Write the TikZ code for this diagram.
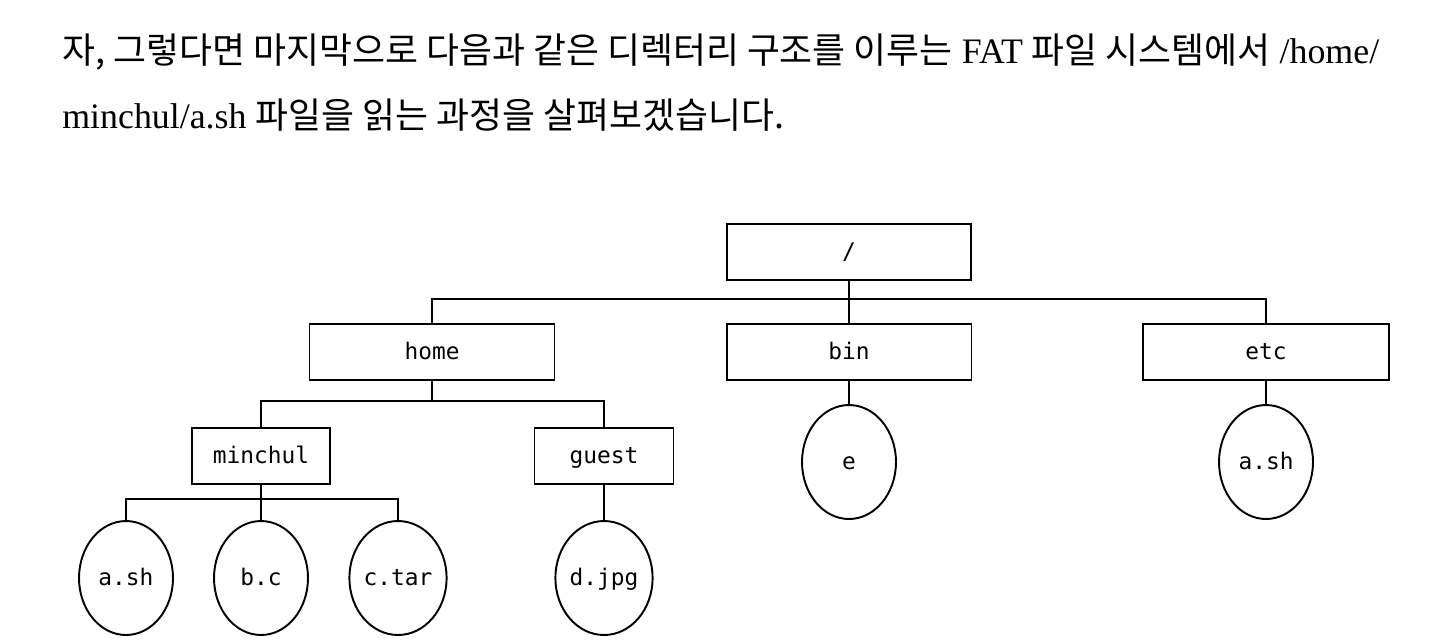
\documentclass[tikz,border=0pt]{standalone}
\usepackage{fontspec}
\setmainfont{Liberation Serif}
\newfontfamily\krfont{Noto Sans CJK KR}
\newfontfamily\sketchfont{DejaVu Sans Mono}
\usetikzlibrary{positioning, shapes.geometric}

\tikzset{
	bodytext/.style={font=\fontsize{20.4}{24}\selectfont, anchor=base west, inner sep=0pt}
}

\begin{document}
\begin{tikzpicture}[x=0.02cm, y=-0.02cm]
	\tikzset{
		dirnode/.style={
				shape=rectangle,
				draw=black,
				line width=1.1pt,
				fill=white,
				minimum height=1.13cm,
				inner sep=0pt,
				text height=1.9ex,
				text depth=0.1ex,
				font=\sketchfont\fontsize{13}{15}\selectfont
			},
		filenode/.style={
				shape=ellipse,
				draw=black,
				line width=1.1pt,
				fill=white,
				minimum width=1.88cm,
				minimum height=2.28cm,
				inner sep=0pt,
				text height=1.9ex,
				text depth=0.1ex,
				font=\sketchfont\fontsize{13}{15}\selectfont
			},
		link/.style={line width=1.1pt}
	}
	\useasboundingbox (0,0) rectangle (1436,640);

	\node[bodytext] (line1) at (62,63) {{\krfont 자, 그렇다면 마지막으로 다음과 같은 디렉터리 구조를 이루는} FAT {\krfont 파일 시스템에서} /home/};
	\node[bodytext] (line2) at (62,128) {minchul/a.sh {\krfont 파일을 읽는 과정을 살펴보겠습니다.}};

	\node[dirnode, minimum width=4.88cm] (root) at (849,252) {/};
	\node[dirnode, minimum width=4.9cm] (home) at (432,352) {home};
	\node[dirnode, minimum width=4.9cm] (bin) at (849,352) {bin};
	\node[dirnode, minimum width=4.92cm] (etc) at (1266,352) {etc};
	\node[dirnode, minimum width=2.76cm] (minchul) at (261,456) {minchul};
	\node[dirnode, minimum width=2.78cm] (guest) at (604,456) {guest};

	\node[filenode] (fa) at (126,578) {a.sh};
	\node[filenode] (fb) at (261,578) {b.c};
	\node[filenode] (fc) at (398,578) {c.tar};
	\node[filenode] (fd) at (604,578) {d.jpg};
	\node[filenode] (fe) at (849,462) {e};
	\node[filenode] (fx) at (1266,462) {a.sh};

	\coordinate (rootbus) at (849,299);
	\coordinate (homebus) at (432,401);
	\coordinate (minbus) at (261,499);

	\draw[link] (root) -- (bin);
	\draw[link] (home.north) |- (rootbus) -| (etc.north);
	\draw[link] (home) -- (homebus);
	\draw[link] (minchul.north) |- (homebus) -| (guest.north);
	\draw[link] (minchul) -- (fb);
	\draw[link] (fa.north) |- (minbus) -| (fc.north);
	\draw[link] (guest) -- (fd);
	\draw[link] (bin) -- (fe);
	\draw[link] (etc) -- (fx);
\end{tikzpicture}
\end{document}
